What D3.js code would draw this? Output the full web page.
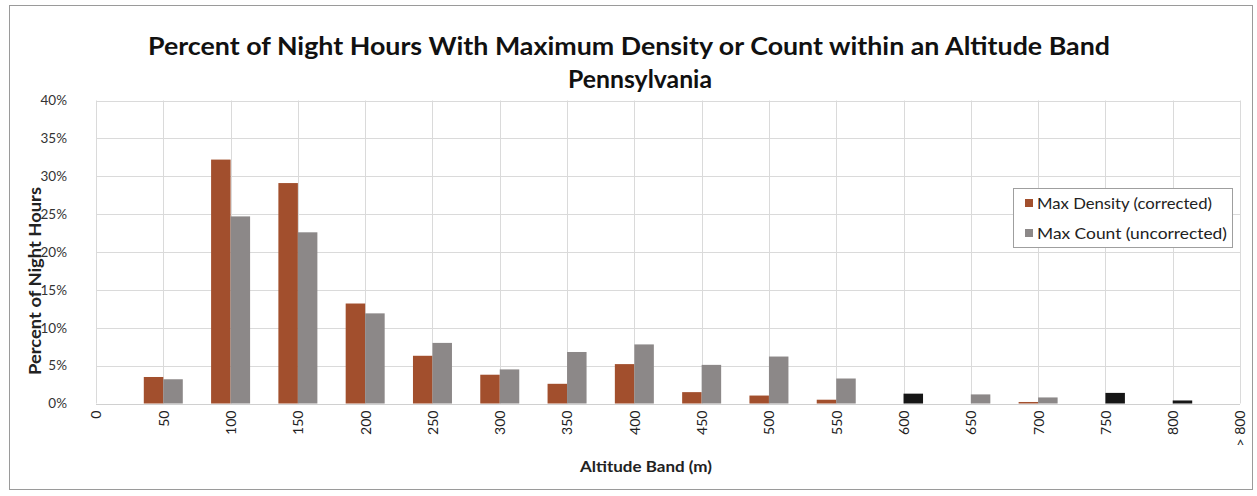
<!DOCTYPE html>
<html>
<head>
<meta charset="utf-8">
<script src="https://cdn.jsdelivr.net/npm/d3@7/dist/d3.min.js"></script>
<style>
  html, body { margin: 0; padding: 0; background: #fff; }
  svg { display: block; font-family: Lato, "Open Sans", sans-serif; }
</style>
</head>
<body>
<svg id="chart" width="1257" height="496"></svg>
<script>
// ---- data ----
const categories = ["0","50","100","150","200","250","300","350","400","450","500","550","600","650","700","750","800","> 800"];
const seriesNames = ["Max Density (corrected)", "Max Count (uncorrected)"];
const maxDensity = [null, 3.5, 32.2, 29.1, 13.2, 6.3, 3.8, 2.6, 5.2, 1.5, 1.05, 0.5, 0, 0, 0.2, 0, 0, null];
const maxCount   = [null, 3.2, 24.7, 22.6, 11.9, 8.0, 4.5, 6.8, 7.8, 5.1, 6.2, 3.3, 1.3, 1.2, 0.8, 1.4, 0.4, null];
const yTicks = [0, 5, 10, 15, 20, 25, 30, 35, 40];
const titleLines = ["Percent of Night Hours With Maximum Density or Count within an Altitude Band", "Pennsylvania"];
const xTitle = "Altitude Band (m)";
const yTitle = "Percent of Night Hours";

// ---- styles ----
const colors = ["#a24f2d", "#8c8888"];
const darkScanBars = new Set(["600", "750", "800"]); // bars that appear black in the scanned reference
const darkColor = "#161616";

const svg = d3.select("#chart");
const plot = { left: 96, right: 1240, top: 100.5, bottom: 403.5 };

// outer border
svg.append("rect").attr("x", 9.5).attr("y", 5.5).attr("width", 1243).attr("height", 484)
  .attr("fill", "none").attr("stroke", "#9a9a9a").attr("stroke-width", 1);

const x = d3.scalePoint().domain(categories).range([plot.left, plot.right]);
const x1 = d3.scaleBand().domain(seriesNames).range([-19.5, 19.5]).padding(0);
const y = d3.scaleLinear().domain([0, 40]).range([plot.bottom, plot.top]);

// gridlines
const grid = svg.append("g");
grid.selectAll("line.h").data(yTicks).join("line")
  .attr("x1", plot.left).attr("x2", plot.right)
  .attr("y1", d => Math.round(y(d)) + 0.5).attr("y2", d => Math.round(y(d)) + 0.5)
  .attr("stroke", "#dadada").attr("stroke-width", 1);
grid.selectAll("line.v").data(categories).join("line")
  .attr("x1", d => Math.round(x(d)) + 0.5).attr("x2", d => Math.round(x(d)) + 0.5)
  .attr("y1", plot.top).attr("y2", plot.bottom)
  .attr("stroke", "#dadada").attr("stroke-width", 1);

// bars
const rows = categories.map((c, i) => ({ cat: c, vals: [maxDensity[i], maxCount[i]] }));
const groups = svg.append("g").selectAll("g").data(rows).join("g")
  .attr("transform", d => `translate(${x(d.cat)},0)`);
groups.selectAll("rect").data(d => d.vals.map((v, j) => ({ cat: d.cat, v, s: seriesNames[j], j })).filter(e => e.v !== null && e.v > 0))
  .join("rect")
  .attr("x", e => x1(e.s))
  .attr("width", x1.bandwidth())
  .attr("y", e => y(e.v))
  .attr("height", e => y(0) - y(e.v))
  .attr("fill", e => (e.j === 1 && darkScanBars.has(e.cat)) ? darkColor : colors[e.j]);

// baseline
svg.append("line").attr("x1", plot.left).attr("x2", plot.right)
  .attr("y1", Math.round(y(0)) + 0.5).attr("y2", Math.round(y(0)) + 0.5)
  .attr("stroke", "#d0d0d0");

// y axis
const yAxis = d3.axisLeft(y).tickValues(yTicks).tickFormat(d => d + "%").tickSize(0).tickPadding(0);
svg.append("g").attr("transform", `translate(${plot.left - 29},0)`).call(yAxis)
  .call(g => g.select(".domain").remove())
  .selectAll("text").attr("font-family", "Lato, sans-serif").attr("font-size", 13.5).attr("fill", "#333");

// x axis
const xAxis = d3.axisBottom(x).tickSize(0).tickPadding(0);
svg.append("g").attr("transform", `translate(0,${plot.bottom + 7})`).call(xAxis)
  .call(g => g.select(".domain").remove())
  .selectAll("text")
  .attr("font-family", "Lato, sans-serif").attr("font-size", 14).attr("fill", "#222")
  .attr("text-anchor", "end").attr("dy", "0.35em").attr("y", 0).attr("x", 0)
  .attr("transform", "rotate(-90)");

// titles
svg.append("text").attr("x", 629).attr("y", 55).attr("text-anchor", "middle")
  .attr("font-size", 25).attr("font-weight", "bold").attr("fill", "#111")
  .attr("textLength", 962).attr("lengthAdjust", "spacingAndGlyphs")
  .text(titleLines[0]);
svg.append("text").attr("x", 640).attr("y", 88).attr("text-anchor", "middle")
  .attr("font-size", 25).attr("font-weight", "bold").attr("fill", "#111")
  .attr("textLength", 144).attr("lengthAdjust", "spacingAndGlyphs")
  .text(titleLines[1]);
svg.append("text").attr("x", 646).attr("y", 472).attr("text-anchor", "middle")
  .attr("font-size", 16).attr("font-weight", "bold").attr("fill", "#222")
  .attr("textLength", 132).attr("lengthAdjust", "spacingAndGlyphs")
  .text(xTitle);
svg.append("text").attr("transform", "translate(41,281) rotate(-90)").attr("text-anchor", "middle")
  .attr("font-size", 17).attr("font-weight", "bold").attr("fill", "#222")
  .attr("textLength", 188).attr("lengthAdjust", "spacingAndGlyphs")
  .text(yTitle);

// legend
const lg = svg.append("g").attr("transform", "translate(1013,188)");
lg.append("rect").attr("x", 0.5).attr("y", 0.5).attr("width", 219).attr("height", 59)
  .attr("fill", "#fff").attr("stroke", "#9f9f9f");
seriesNames.forEach((n, i) => {
  const yy = 15 + i * 30;
  lg.append("rect").attr("x", 12).attr("y", yy - 4).attr("width", 8).attr("height", 8).attr("fill", colors[i]);
  lg.append("text").attr("x", 24).attr("y", yy).attr("dy", "0.35em")
    .attr("font-size", 16).attr("fill", "#222")
    .attr("textLength", i === 0 ? 175 : 190).attr("lengthAdjust", "spacingAndGlyphs")
    .text(n);
});
</script>
</body>
</html>
